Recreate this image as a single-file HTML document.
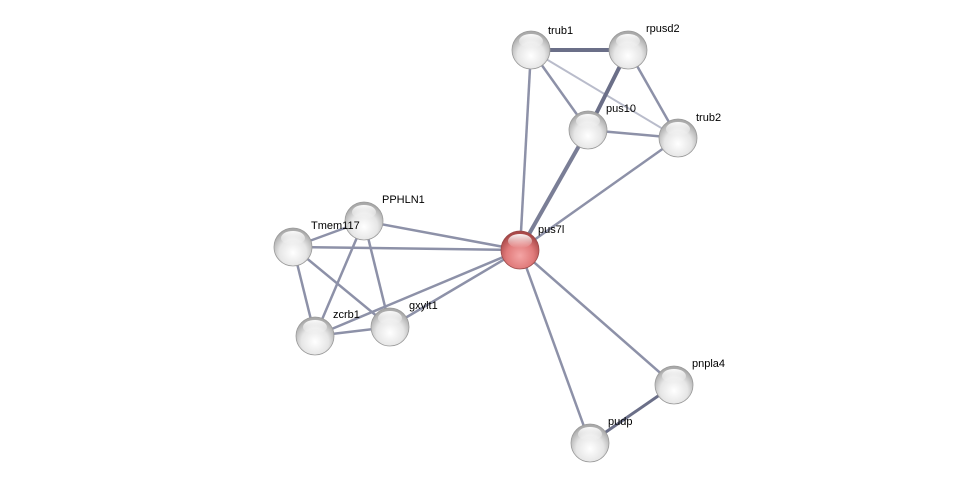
<!DOCTYPE html>
<html><head><meta charset="utf-8"><style>body{margin:0;background:#fff}svg{display:block}text{font-family:"Liberation Sans",sans-serif;font-size:11px;fill:#000}</style></head><body>
<svg width="975" height="488" viewBox="0 0 975 488">
<defs>
<radialGradient id="g" cx="0.5" cy="0.65" r="0.6"><stop offset="0" stop-color="#ffffff"/><stop offset="0.6" stop-color="#e6e6e6"/><stop offset="1" stop-color="#a9a9a9"/></radialGradient>
<radialGradient id="r" cx="0.5" cy="0.65" r="0.6"><stop offset="0" stop-color="#f4a5a5"/><stop offset="0.6" stop-color="#e07a7a"/><stop offset="1" stop-color="#a84848"/></radialGradient>
<linearGradient id="h" x1="0" y1="0" x2="0" y2="1"><stop offset="0" stop-color="#fff" stop-opacity="0.95"/><stop offset="1" stop-color="#fff" stop-opacity="0"/></linearGradient>
<g id="n"><circle r="19" fill="url(#g)" stroke="#9a9a9a" stroke-width="0.8"/><ellipse cx="0" cy="-9" rx="12" ry="7" fill="url(#h)"/></g>
<g id="nr"><circle r="19" fill="url(#r)" stroke="#9a4a4a" stroke-width="0.8"/><ellipse cx="0" cy="-9" rx="12" ry="7" fill="url(#h)"/></g>
</defs>
<g stroke="#8d91a8" stroke-width="2.5" fill="none">
<line x1="531" y1="50" x2="628" y2="50" stroke="#6b6f88" stroke-width="4"/>
<line x1="531" y1="50" x2="588" y2="130"/>
<line x1="531" y1="50" x2="678" y2="138" stroke="#b9bccb" stroke-width="2"/>
<line x1="531" y1="50" x2="520" y2="250"/>
<line x1="628" y1="50" x2="588" y2="130" stroke="#6b6f88" stroke-width="4"/>
<line x1="628" y1="50" x2="678" y2="138"/>
<line x1="588" y1="130" x2="678" y2="138"/>
<line x1="588" y1="130" x2="520" y2="250" stroke="#7a7e96" stroke-width="4"/>
<line x1="678" y1="138" x2="520" y2="250"/>
<line x1="520" y1="250" x2="364" y2="221"/>
<line x1="520" y1="250" x2="293" y2="247"/>
<line x1="520" y1="250" x2="390" y2="327"/>
<line x1="520" y1="250" x2="315" y2="336"/>
<line x1="520" y1="250" x2="674" y2="385"/>
<line x1="520" y1="250" x2="590" y2="443"/>
<line x1="674" y1="385" x2="590" y2="443" stroke="#6b6f88" stroke-width="3"/>
<line x1="364" y1="221" x2="293" y2="247"/>
<line x1="364" y1="221" x2="315" y2="336"/>
<line x1="364" y1="221" x2="390" y2="327"/>
<line x1="293" y1="247" x2="315" y2="336"/>
<line x1="293" y1="247" x2="390" y2="327"/>
<line x1="315" y1="336" x2="390" y2="327"/>
</g>
<use href="#n" x="531" y="50"/><use href="#n" x="628" y="50"/><use href="#n" x="588" y="130"/><use href="#n" x="678" y="138"/>
<use href="#n" x="364" y="221"/><use href="#n" x="293" y="247"/><use href="#n" x="315" y="336"/><use href="#n" x="390" y="327"/>
<use href="#n" x="674" y="385"/><use href="#n" x="590" y="443"/>
<use href="#nr" x="520" y="250"/>
<text x="548" y="34">trub1</text><text x="646" y="32">rpusd2</text><text x="606" y="112">pus10</text><text x="696" y="121">trub2</text>
<text x="538" y="233">pus7l</text><text x="382" y="203">PPHLN1</text><text x="311" y="229">Tmem117</text><text x="333" y="318">zcrb1</text>
<text x="409" y="309">gxylt1</text><text x="692" y="367">pnpla4</text><text x="608" y="425">pudp</text>
</svg>
</body></html>
